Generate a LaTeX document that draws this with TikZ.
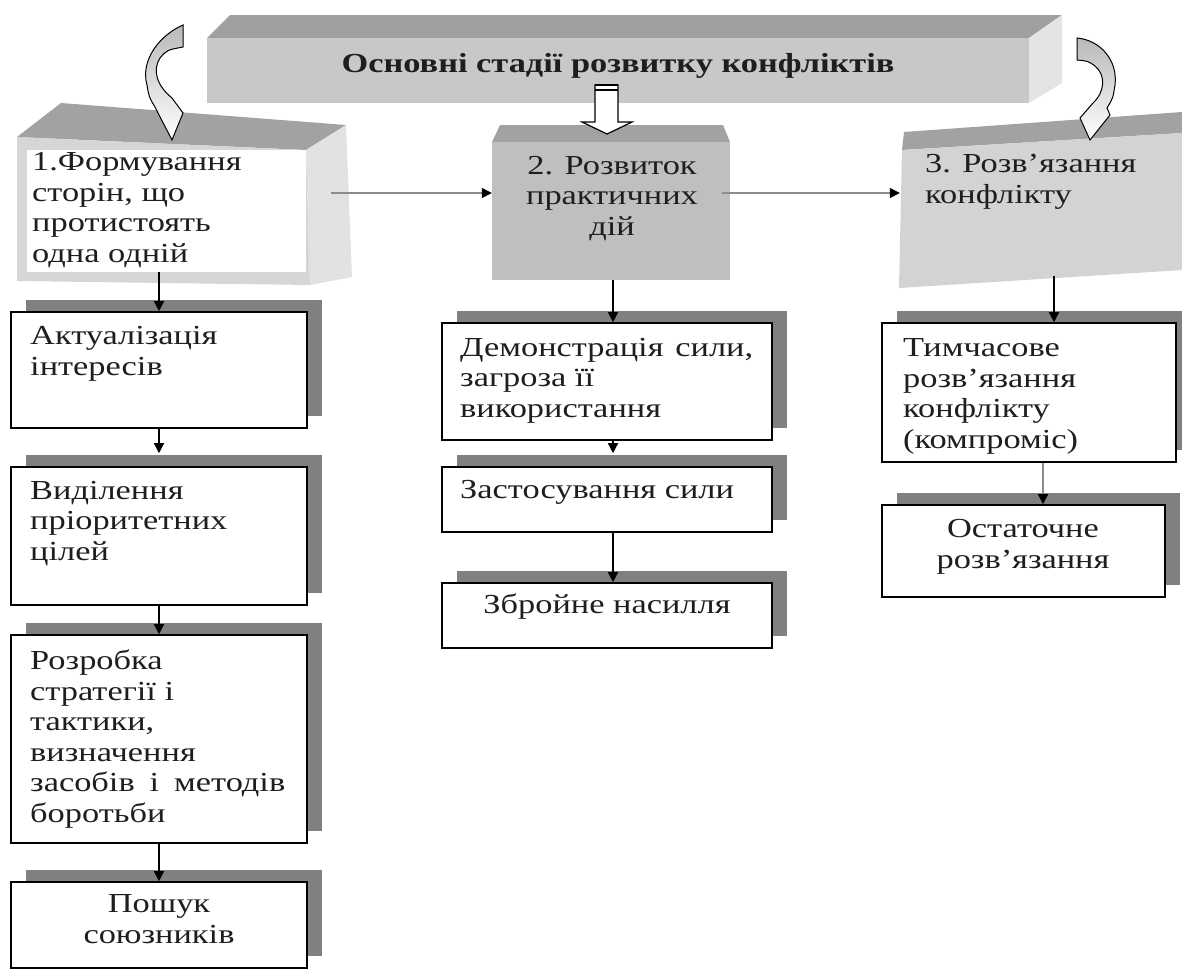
\documentclass[tikz,border=0pt]{standalone}
\usepackage{fontspec}
\setmainfont{Liberation Serif}[FakeStretch=1.25]
\usetikzlibrary{arrows.meta,shadows,calc}
\definecolor{shd}{HTML}{808080}
\definecolor{txtc}{HTML}{1E1E1E}
\definecolor{bantop}{HTML}{A0A0A0}
\definecolor{banfront}{HTML}{C8C8C8}
\definecolor{banside}{HTML}{E4E4E4}
\definecolor{stop}{HTML}{A2A2A2}
\definecolor{sfront}{HTML}{D6D6D6}
\definecolor{sside}{HTML}{E2E2E2}
\definecolor{stwo}{HTML}{BFBFBF}
\definecolor{sthree}{HTML}{D3D3D3}
\definecolor{lineg}{HTML}{8C8C8C}
\begin{document}
\begin{tikzpicture}[x=1pt,y=-1pt,
  wbox/.style={draw=black, line width=1.6pt, fill=white, inner sep=0,
    drop shadow={shadow xshift=15pt, shadow yshift=12pt, opacity=1, fill=shd, draw=none}},
  txt/.style={inner sep=0, font=\fontsize{27.5}{30.5}\selectfont, text=txtc, align=left, anchor=base west},
  ctxt/.style={inner sep=0, font=\fontsize{27.5}{30.5}\selectfont, text=txtc, align=center, anchor=base},
  conn/.style={line width=1.4pt, -{Triangle[length=10pt,width=10pt]}},
  gconn/.style={line width=1.4pt, draw=lineg, -{Triangle[length=10pt,width=10pt,color=black]}},
  curvarr/.style={draw=black, line width=1pt, top color=gray!55, bottom color=white}
]
\useasboundingbox (0,0) rectangle (1182,970);

% banner
\fill[bantop] (207,38) -- (230,15) -- (1062,15) -- (1029,38) -- cycle;
\fill[banside] (1029,38) -- (1062,15) -- (1062,83) -- (1029,103) -- cycle;
\node[fill=banfront, inner sep=0, minimum width=822, minimum height=65] (banner) at (618,70.5) {};
\node[inner sep=0, anchor=base, text=txtc, font=\fontsize{27.5}{30}\selectfont\bfseries] (title) at (618,72) {Основні стадії розвитку конфліктів};

% stage 1
\fill[stop] (17,137) -- (61,103) -- (346,125) -- (306,150) -- cycle;
\fill[sside] (306,150) -- (346,125) -- (352,277) -- (310,285) -- cycle;
\fill[sfront] (17,137) -- (306,150) -- (310,285) -- (17,281) -- cycle;
\node[fill=white, inner sep=0, minimum width=279, minimum height=122] (s1) at (166.5,211) {};
\node[txt] (s1t) at (32,262) {1.Формування\\сторін, що\\протистоять\\одна одній};

% stage 2
\fill[stop] (492,142) -- (500,125) -- (723,125) -- (730,142) -- cycle;
\node[fill=stwo, inner sep=0, minimum width=238, minimum height=138] (s2) at (611,211) {};
\node[ctxt] (s2t) at (612,235) {2. Розвиток\\практичних\\дій};

% stage 3
\fill[stop] (902,150) -- (904,132) -- (1182,112) -- (1182,133) -- cycle;
\fill[sthree] (902,150) -- (1182,133) -- (1182,270) -- (899,288) -- cycle;
\node[inner sep=0, minimum width=280, minimum height=120] (s3) at (1042,210) {};
\node[txt] (s3t) at (925,203) {3. Розв’язання\\конфлікту};

% curved arrows
\path[curvarr] (183,25) .. controls (160,35) and (140,60) .. (147,85)
  .. controls (149,97) .. (155,107) -- (158,113) -- (172,140) -- (183,113) -- (172,98)
  .. controls (157,86) and (152,70) .. (160,58) .. controls (167,50) .. (183,47) -- cycle;
\path[curvarr] (1077,38) .. controls (1100,40) and (1118,60) .. (1115,85)
  .. controls (1113,98) .. (1107,108) -- (1110,115) -- (1090,140) -- (1080,118) -- (1093,103)
  .. controls (1105,92) and (1106,75) .. (1095,66) .. controls (1088,61) .. (1077,60) -- cycle;
% block arrow
\draw[line width=1.2pt, fill=white] (595,85) -- (618,85) -- (618,122) -- (632,122) -- (607,134) -- (582,122) -- (595,122) -- cycle;
\draw[line width=2pt] (595,85) -- (618,85);
\draw[line width=1.2pt] (595,90) -- (618,90);

% column 1
\node[wbox, minimum width=296, minimum height=116] (akt) at (159,370) {};
\node[txt] (aktt) at (30,375) {Актуалізація\\інтересів};
\node[wbox, minimum width=296, minimum height=138] (vyd) at (159,536) {};
\node[txt] (vydt) at (30,560) {Виділення\\пріоритетних\\цілей};
\node[wbox, minimum width=296, minimum height=208] (rozr) at (159,739) {};
\node[txt] (rozrt) at (30,822) {Розробка\\стратегії і\\тактики,\\визначення\\\makebox[255pt][s]{засобів і методів}\\боротьби};
\node[wbox, minimum width=296, minimum height=86] (posh) at (159,925) {};
\node[ctxt] (posht) at (159,943) {Пошук\\союзників};

% column 2
\node[wbox, minimum width=330, minimum height=117] (dem) at (607,381.5) {};
\node[txt] (demt) at (460,417) {\makebox[293pt][s]{Демонстрація сили,}\\загроза її\\використання};
\node[wbox, minimum width=330, minimum height=65] (zast) at (607,499.5) {};
\node[txt] (zastt) at (460,498) {Застосування сили};
\node[wbox, minimum width=330, minimum height=65] (zbr) at (607,615.5) {};
\node[ctxt] (zbrt) at (607,613) {Збройне насилля};

% column 3
\node[wbox, minimum width=294, minimum height=139] (tym) at (1029,392.5) {};
\node[txt] (tymt) at (903,448) {Тимчасове\\розв’язання\\конфлікту\\(компроміс)};
\node[wbox, minimum width=283, minimum height=92] (ost) at (1023.5,551) {};
\node[ctxt] (ostt) at (1023,568) {Остаточне\\розв’язання};

% connectors
\coordinate (h1) at (331,193);
\coordinate (h2) at (722,193);
\draw[gconn] (h1) -- (h1 -| s2.west);
\draw[gconn] (h2) -- ($(h2 -| s3.west)+(-2,0)$);
\draw[conn] (s1.south -| akt.north) -- (akt.north);
\draw[conn, shorten >=13pt] (akt.south) -- (vyd.north);
\draw[conn] (vyd.south) -- (rozr.north);
\draw[conn] (rozr.south) -- (posh.north);
\coordinate (m2) at ($(s2.south)+(2,0)$);
\draw[conn] (m2) -- (m2 |- dem.north);
\draw[conn, shorten >=13pt] (dem.south -| m2) -- (zast.north -| m2);
\draw[conn] (zast.south -| m2) -- (zbr.north -| m2);
\coordinate (c3) at (1054,276);
\draw[conn] (c3) -- (c3 |- tym.north);
\coordinate (c4) at ($(tym.south)+(14,0)$);
\draw[gconn] (c4) -- (c4 |- ost.north);
\end{tikzpicture}
\end{document}
